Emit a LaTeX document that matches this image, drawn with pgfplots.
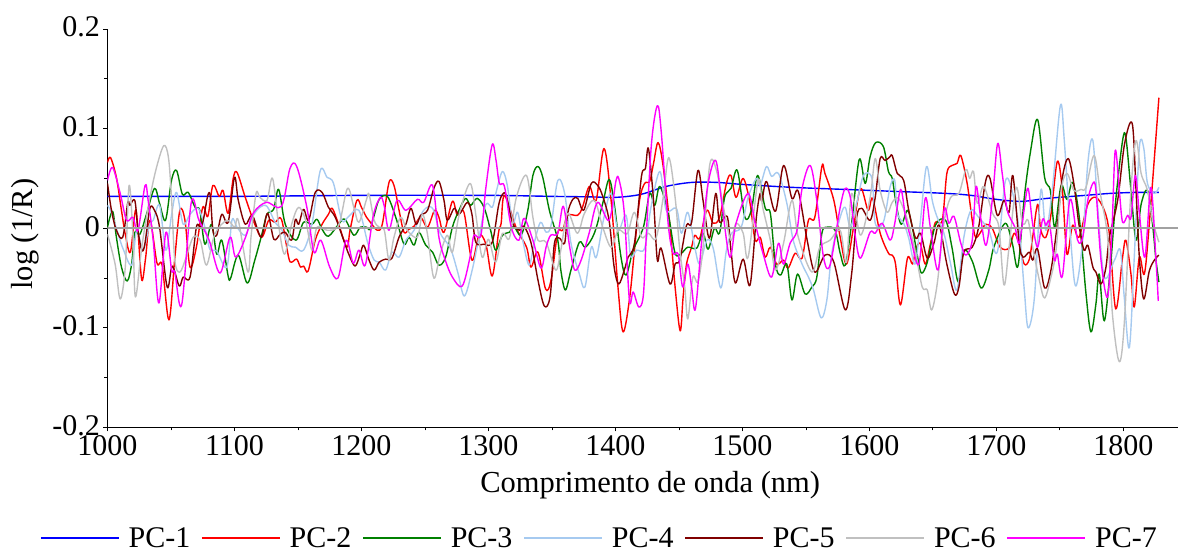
\documentclass[border=0pt]{standalone}
\usepackage{fontspec}
\setmainfont{Liberation Serif}
\usepackage{pgfplots}
\pgfplotsset{compat=1.18}
\definecolor{pcblue}{HTML}{0000FF}
\definecolor{pcred}{HTML}{FF0000}
\definecolor{pcgreen}{HTML}{008000}
\definecolor{pclight}{HTML}{A6CAF0}
\definecolor{pcdark}{HTML}{800000}
\definecolor{pcgray}{HTML}{C0C0C0}
\definecolor{pcmag}{HTML}{FF00FF}
\begin{document}
\begin{tikzpicture}[x=1pt,y=1pt]
\useasboundingbox (-107.5pt,-123.5pt) rectangle (1070.5pt,427.5pt);
\begin{axis}[
  at={(0pt,0pt)},anchor=south west,
  scale only axis,width=1070.5pt,height=398.5pt,
  xmin=1000,xmax=1843,ymin=-0.2,ymax=0.2,
  axis x line*=bottom,axis y line*=left,
  axis line style={black,line width=1pt,-},
  xtick={1000,1100,1200,1300,1400,1500,1600,1700,1800},
  xticklabels={1000,1100,1200,1300,1400,1500,1600,1700,1800},
  minor xtick={1050,1150,1250,1350,1450,1550,1650,1750},
  ytick={-0.2,-0.1,0,0.1,0.2},
  yticklabels={-0.2,-0.1,0,0.1,0.2},
  minor ytick={-0.15,-0.05,0.05,0.15},
  tick align=outside,
  major tick length=4pt,minor tick length=3pt,
  tick style={black,line width=0.8pt},
  tick label style={font=\fontsize{30}{30}\selectfont},
  xticklabel style={yshift=-1pt},
  yticklabel style={yshift=2pt},
  xlabel={Comprimento de onda (nm)},
  ylabel={log (1/R)},
  every axis x label/.style={at={(axis description cs:0.507,0)},anchor=center,yshift=-58pt,font=\fontsize{30.5}{30.5}\selectfont},
  every axis y label/.style={at={(axis description cs:-0.0765,0.485)},rotate=90,anchor=center,font=\fontsize{30.5}{30.5}\selectfont},
  legend columns=7,
  legend style={draw=none,fill=none,at={(-67.5pt,-110.5pt)},anchor=west,
    font=\fontsize{30}{30}\selectfont,inner xsep=0pt,inner ysep=0pt,
    /tikz/every odd column/.append style={column sep=7pt},
    /tikz/every even column/.append style={column sep=9pt}},
  legend image code/.code={\draw[#1] (0pt,0pt) -- (78pt,0pt);},
  every axis plot/.append style={line width=1.4pt,line join=round,smooth,tension=0.55,no marks},
]
\addplot[pcblue] coordinates {(1000,.032)(1100,.032)(1200,.033)(1300,.033)(1350,.032)(1380,.0315)(1400,.031)(1420,.034)(1440,.042)(1460,.046)(1480,.046)(1500,.044)(1540,.041)(1580,.039)(1620,.037)(1660,.035)(1680,.033)(1700,.029)(1720,.027)(1740,.030)(1770,.033)(1790,.035)(1810,.036)(1828,.036)};
\addlegendentry{PC-1}
\addplot[pcred] coordinates {(1000,.066)(1002.4,.071)(1007,.051)(1011,.018)(1014,-.006)(1018,-.024)(1022,.018)(1024,-.003)(1027,-.052)(1030,-.03)(1033.5,.008)(1039,-.035)(1043,-.037)(1048.4,-.092)(1053,-.03)(1057,.018)(1061,.008)(1065,-.039)(1070,-.019)(1075,.021)(1079,.012)(1083,.043)(1088,.032)(1091,.038)(1095,.015)(1099,.05)(1102,.056)(1108.5,.031)(1116,.004)(1121.6,-.009)(1127,.008)(1132,.006)(1137,.009)(1142.6,-.029)(1145,-.034)(1149,-.031)(1152,-.039)(1154.5,-.038)(1158,-.043)(1163.6,-.012)(1169,.004)(1174,.014)(1177,.02)(1182,.004)(1188.6,-.019)(1191,-.002)(1196.4,.028)(1200,.021)(1204,.011)(1207,.006)(1212.5,-.002)(1216.4,.004)(1221.7,.046)(1225.6,.043)(1229.6,.018)(1233.5,-.004)(1237.4,-.001)(1241.4,.002)(1246.6,.011)(1252,.001)(1257.6,.018)(1261,.011)(1265,-.004)(1271.6,.027)(1275.5,.013)(1280.7,.016)(1287,-.032)(1292.6,-.007)(1298,-.016)(1303,-.048)(1308,-.004)(1310,.005)(1312.6,.033)(1322,.0)(1330,-.019)(1333.5,-.039)(1339,-.024)(1345,-.061)(1349.3,-.052)(1354.5,-.005)(1358.5,-.002)(1362.4,.013)(1370.3,.013)(1374,.021)(1379.5,.042)(1384.8,.028)(1391,.08)(1396.6,.028)(1402,-.059)(1406,-.104)(1411,-.072)(1415,-.022)(1419,.028)(1423,.045)(1427,.047)(1430,.065)(1433.6,.086)(1437.6,.062)(1443,.001)(1447,-.059)(1451,-.103)(1453.3,-.069)(1456,-.036)(1460,-.019)(1462.5,-.007)(1466.4,-.01)(1472,.018)(1477,.005)(1482,.011)(1487.4,.045)(1491,.053)(1495,.031)(1500.6,.05)(1506,.025)(1510,-.012)(1514,-.009)(1518,-.029)(1522,-.019)(1527,-.036)(1532.4,-.032)(1536,-.04)(1541.6,-.025)(1547,-.03)(1552,.008)(1557,.011)(1562.6,.062)(1565,.055)(1572,.028)(1577,-.009)(1582,-.036)(1587.5,.001)(1593,.04)(1599,.018)(1602.5,.03)(1608.5,-.005)(1615,-.025)(1618,-.027)(1620.6,-.036)(1624.5,-.077)(1630,-.03)(1634,-.036)(1636.4,-.022)(1640,-.015)(1644,-.036)(1648,-.016)(1652,.006)(1657.4,.008)(1661,.055)(1665,.063)(1669,.065)(1672,.073)(1677,.045)(1681,.008)(1683.6,-.009)(1687.6,-.004)(1691.5,.004)(1696.7,.0)(1703,-.019)(1710,-.02)(1714,-.005)(1717.7,-.015)(1722,-.036)(1726,-.031)(1728.6,-.009)(1732.5,.024)(1735,-.002)(1739,-.009)(1743,.014)(1748,.067)(1752,.038)(1755.6,-.026)(1760,.003)(1765,-.009)(1772,.024)(1778.4,.031)(1785,.018)(1789,-.006)(1794,-.081)(1799.4,-.029)(1802,-.012)(1806,-.046)(1808.6,-.079)(1812.6,-.029)(1816.5,-.046)(1820.4,.004)(1828,.131)};
\addlegendentry{PC-2}
\addplot[pcgreen] coordinates {(1000,.001)(1004,.017)(1007,-.009)(1011,-.039)(1015.5,-.053)(1019,-.036)(1021.6,-.004)(1025.5,-.006)(1030.7,.014)(1037,.04)(1041,.025)(1045.7,.008)(1050.4,.048)(1054.4,.058)(1059,.034)(1063.6,.036)(1069,.021)(1072.7,.018)(1076.7,-.016)(1082,.004)(1086,-.026)(1090,-.012)(1095,-.048)(1097,-.05)(1103,-.027)(1110,-.055)(1116,-.032)(1121.6,-.006)(1125.6,.014)(1130.8,.019)(1134.8,.039)(1140,.004)(1148.4,-.012)(1154.4,.006)(1161,.004)(1165,.009)(1169,-.001)(1174,-.008)(1182,.004)(1187,.009)(1194,-.007)(1199,.001)(1204,.001)(1206.7,-.001)(1210,.013)(1214,.029)(1220.4,.032)(1227,.011)(1233.5,-.016)(1237.4,-.009)(1241.4,-.017)(1245.3,-.004)(1250.6,-.017)(1256,-.024)(1261,-.037)(1266.3,-.029)(1271.6,.001)(1276.8,.018)(1282,.03)(1286,.023)(1291,.03)(1296.5,.021)(1301.7,-.002)(1305.7,-.022)(1311,-.007)(1316.5,-.004)(1320,.002)(1325.7,-.007)(1331,.018)(1335,.053)(1339,.062)(1342.8,.051)(1348,.018)(1354.6,-.012)(1357,-.042)(1360.6,-.062)(1365,-.042)(1371.6,-.014)(1376.4,-.019)(1383.4,-.005)(1390,.025)(1395,.049)(1399,.025)(1404.4,-.029)(1408.4,-.047)(1414,-.022)(1422,.001)(1427,.035)(1431,.023)(1435,.042)(1441.5,.015)(1447,-.025)(1452,-.025)(1457,-.019)(1464,-.02)(1469,-.005)(1473,-.021)(1478,0)(1482,-.005)(1486,.031)(1491,.04)(1496,.058)(1502,.011)(1507,.018)(1512,.053)(1518,.02)(1522,.015)(1526,-.036)(1530,-.047)(1535,-.036)(1539,-.072)(1543.4,-.046)(1549.4,-.066)(1554.7,-.059)(1558.6,-.049)(1562.6,-.005)(1566.5,.001)(1573,-.002)(1577,-.025)(1581,-.037)(1586,.005)(1592,.069)(1596.7,.045)(1600.6,.072)(1605,.086)(1611,.082)(1615,.057)(1618,.05)(1621,.025)(1625,.004)(1630,.018)(1633.8,.001)(1638,-.029)(1641,-.045)(1645.6,-.034)(1652,.003)(1660,.008)(1665,-.019)(1670,-.054)(1674.4,-.022)(1681,-.033)(1688,-.06)(1694,-.042)(1698,-.019)(1707,.005)(1712.5,-.015)(1717,-.038)(1722,.031)(1727,.078)(1732.5,.109)(1738,.051)(1742.5,.038)(1746,.001)(1751,.043)(1755.6,.029)(1760,.046)(1765,.014)(1770.6,-.066)(1774.5,-.104)(1778.4,-.076)(1781,-.046)(1785,-.093)(1790,-.036)(1794,.028)(1799.4,.088)(1802,.091)(1806,.038)(1810,-.012)(1814,.024)(1819,.038)(1823,.004)(1825.7,-.032)(1828,-.054)};
\addlegendentry{PC-3}
\addplot[pclight] coordinates {(1000,.023)(1003,.016)(1008.4,-.006)(1012.4,-.021)(1019,-.037)(1023,-.002)(1028,-.022)(1033,.003)(1036,.008)(1041,.023)(1046,-.022)(1050.4,.013)(1054.4,.036)(1059.6,.004)(1065,.014)(1071.4,.02)(1076.7,.001)(1080.6,-.021)(1086,-.023)(1094,-.039)(1098,.008)(1102,.001)(1108.5,-.007)(1114,.011)(1120,.021)(1125.6,.022)(1132,.006)(1137.4,-.002)(1142.6,-.017)(1148,-.019)(1154.4,-.022)(1161,.004)(1167.6,.058)(1173,.051)(1178,.045)(1184.6,.008)(1190,.012)(1198,.018)(1205,-.015)(1210,-.032)(1214,-.034)(1219,-.042)(1224,-.024)(1229.6,-.029)(1235,-.012)(1241.4,-.002)(1249,.018)(1256,.02)(1262,-.005)(1270,-.02)(1276,-.045)(1281,-.068)(1287,-.043)(1292.6,-.009)(1298,.024)(1303,.021)(1306,.036)(1311,.057)(1315,.042)(1319,.005)(1323,.016)(1327,-.012)(1332,-.037)(1336,-.015)(1341,.006)(1345.4,-.004)(1349.3,.003)(1354.6,.048)(1360,.035)(1365,-.015)(1371.6,-.046)(1376,-.059)(1381,-.019)(1385,-.029)(1391,.011)(1396.6,.035)(1402,-.002)(1408.4,.013)(1412,-.028)(1416.6,-.022)(1423,-.02)(1428,.021)(1435,.057)(1440,.018)(1448,.02)(1452,-.005)(1457,.016)(1462.5,-.019)(1466.4,-.036)(1472,-.012)(1477,-.02)(1483,-.06)(1487.4,-.022)(1491.4,-.005)(1499,.001)(1504.5,.031)(1511,.05)(1514,.043)(1519,.062)(1523,.052)(1528.4,.055)(1535,.025)(1540,-.012)(1547,-.036)(1552,-.049)(1556,-.062)(1562,-.09)(1566.5,-.072)(1570.4,-.025)(1577,.011)(1581,.021)(1585,.001)(1590,.025)(1595.4,.053)(1602,.05)(1604.6,.005)(1611,.006)(1616.4,.042)(1620,.048)(1622,.015)(1627,.005)(1631,-.01)(1636,-.036)(1640,.005)(1645,.062)(1649.5,.028)(1653.4,.011)(1658.7,-.005)(1664,-.036)(1669,-.062)(1674.4,-.009)(1680,.018)(1686,.011)(1694,-.002)(1700.7,-.024)(1707,.047)(1712.5,.037)(1718,-.002)(1722,-.062)(1725,-.1)(1730,-.069)(1735,.038)(1739,-.002)(1744,.038)(1750.4,.123)(1753.5,.088)(1759,-.019)(1762.7,-.058)(1768,-.012)(1772,.065)(1776,.088)(1780,.018)(1785,-.049)(1793,-.032)(1797.6,-.022)(1800.7,-.069)(1804.7,-.12)(1808.6,-.029)(1812.6,.081)(1816,.081)(1819,.045)(1824.4,.035)(1828,.041)};
\addlegendentry{PC-4}
\addplot[pcdark] coordinates {(1000,.045)(1003,.019)(1007,-.002)(1012,-.009)(1016,.026)(1017.6,.023)(1021.5,.028)(1024,-.002)(1027,-.022)(1029.4,-.016)(1033.4,.02)(1037,.018)(1041,.001)(1047,-.059)(1051,-.038)(1056.5,-.058)(1059.6,-.049)(1065,-.049)(1070,.001)(1073,.001)(1075.4,.008)(1079,.033)(1081,.032)(1083,-.002)(1086,-.007)(1090,.014)(1095,.006)(1100,.051)(1103,.028)(1108.5,.004)(1114,.013)(1121,-.009)(1126,.015)(1131,-.011)(1136,-.006)(1140,-.004)(1145,-.012)(1148,.009)(1150.5,.004)(1154.4,.019)(1158.4,.008)(1163.6,.036)(1169,.036)(1174,.021)(1179.4,.011)(1186,-.012)(1190,-.026)(1195,-.038)(1199,-.026)(1201.7,-.017)(1206,-.032)(1210,-.042)(1214,-.034)(1219,-.031)(1224,-.03)(1229.6,-.009)(1235,.004)(1239,.02)(1243,.004)(1246.6,.013)(1252,.018)(1257,.04)(1261,.047)(1265,.028)(1267.6,.008)(1273,.02)(1277,.014)(1283.4,.026)(1287,.014)(1290,-.014)(1296.5,-.016)(1303,-.014)(1308,.023)(1311,.034)(1314,.033)(1319,.005)(1324.4,-.002)(1328,.002)(1333.6,-.015)(1339,-.052)(1344,-.078)(1348.5,-.069)(1352,-.015)(1356,-.01)(1360,-.015)(1362.4,.015)(1366.4,.029)(1370.3,.03)(1375,.018)(1381,.045)(1386,.043)(1390,.032)(1395,.008)(1399,-.039)(1402.6,-.056)(1407,-.042)(1410,-.029)(1415,-.015)(1420.5,.052)(1423.6,.06)(1426,.08)(1430,.028)(1433,-.032)(1436,-.02)(1443,-.056)(1447,-.036)(1450.7,-.032)(1456,.003)(1460,.006)(1465,.058)(1469,.028)(1474,-.01)(1479,.035)(1482,.006)(1488,.012)(1491,-.022)(1494.5,-.055)(1500.6,-.031)(1506,-.057)(1511,.011)(1514,.035)(1515.3,.027)(1519,.047)(1526,.017)(1532.4,.063)(1539,.03)(1544,.037)(1551,-.012)(1557,-.044)(1565,-.027)(1572,-.034)(1581,-.082)(1586,-.046)(1590,.011)(1594,.02)(1600.6,.008)(1604.6,.031)(1608.5,.07)(1612.4,.068)(1616.4,.072)(1618,.073)(1622,.055)(1627,.048)(1631,.018)(1636.4,-.01)(1640.3,-.005)(1645.6,-.03)(1650.8,-.015)(1655,.003)(1661,-.036)(1667,-.066)(1670.5,-.059)(1674.4,-.024)(1681,-.019)(1686,.001)(1691.5,.047)(1695,.05)(1700.7,.013)(1706,.028)(1710,.016)(1713,.053)(1718,-.015)(1721,-.029)(1726,-.024)(1728.6,-.032)(1732.5,-.021)(1738,-.06)(1743,-.042)(1748,.004)(1752,.051)(1756.6,.07)(1761,.045)(1765,.004)(1769,-.022)(1772,-.017)(1776,-.039)(1778.4,-.044)(1782.4,-.056)(1786.3,-.039)(1789,-.009)(1795.5,.028)(1801,.085)(1807,.105)(1810,.038)(1812.6,-.029)(1816,-.071)(1820.4,-.043)(1824.4,-.032)(1828,-.027)};
\addlegendentry{PC-5}
\addplot[pcgray] coordinates {(1000,-.006)(1006,-.036)(1010,-.071)(1014,-.039)(1017,.043)(1020,-.006)(1022,-.069)(1027,-.019)(1033,.028)(1038.6,.061)(1044.4,.083)(1048,.071)(1050.4,.031)(1053,-.032)(1057,-.044)(1062,-.029)(1067.5,-.009)(1073,-.012)(1078,-.037)(1084.5,-.006)(1094,.008)(1100,.001)(1103,.008)(1110.6,-.044)(1113,-.009)(1117,.035)(1120,.031)(1125.6,.028)(1130,.05)(1135,.001)(1139.5,-.026)(1145,.004)(1150.5,.021)(1156,.008)(1161,-.022)(1165,.001)(1173,-.002)(1182,.003)(1189,.04)(1194,.021)(1198,.006)(1204,.029)(1206,.034)(1210,.008)(1214,.001)(1218,-.002)(1221.7,-.032)(1225.6,-.009)(1231,.011)(1236,-.002)(1244,-.009)(1248,.014)(1252,-.006)(1257,-.05)(1262,-.026)(1267.6,-.007)(1271.6,-.024)(1277,.014)(1285.5,.045)(1290,.014)(1295,-.029)(1300,-.011)(1305.7,-.034)(1311,-.005)(1316.5,-.01)(1322,.031)(1330,.053)(1335,.011)(1339,-.012)(1345.4,-.014)(1353,-.042)(1357,-.022)(1362.4,.015)(1370,-.005)(1375.6,.015)(1383.4,.028)(1390,.001)(1396.6,-.019)(1402,-.002)(1407,-.005)(1410,-.004)(1415,.016)(1420.5,-.009)(1426,-.005)(1432,-.01)(1437.6,.031)(1442,.071)(1447,.031)(1450.7,-.022)(1454.6,-.059)(1457,-.091)(1461,-.049)(1465,-.054)(1469,-.019)(1474.3,.064)(1479.6,.058)(1486,.015)(1491,-.012)(1495,.005)(1500.6,-.005)(1504.5,-.029)(1512.4,.048)(1516,.021)(1522,-.012)(1526,-.042)(1532.4,-.015)(1539,.028)(1544,-.009)(1554.7,-.044)(1561,-.019)(1569,-.012)(1577,-.002)(1582,-.034)(1586,.035)(1593,-.007)(1600.6,.031)(1604.6,.07)(1608.5,.038)(1614,.016)(1618,.026)(1623,.03)(1630,.008)(1636.4,-.025)(1641.6,-.059)(1645.6,-.062)(1649,-.082)(1653.4,-.056)(1658.7,.005)(1664,.031)(1670.5,.035)(1676,.059)(1679,.05)(1682,.057)(1685,.025)(1690,.042)(1697,.015)(1702,.001)(1706,-.057)(1710,-.019)(1715.6,.041)(1720,.008)(1722,.004)(1725,.008)(1728.6,-.019)(1734,-.053)(1738,-.07)(1743,-.049)(1747,-.022)(1751,.038)(1755.6,.055)(1761,.038)(1766.6,.039)(1770.6,.041)(1777,.073)(1782,.034)(1787.6,-.009)(1791.6,-.089)(1796.8,-.134)(1800.7,-.096)(1806,.038)(1810,.088)(1814,.055)(1819,.038)(1823,.008)(1828,-.014)};
\addlegendentry{PC-6}
\addplot[pcmag] coordinates {(1000,.048)(1004,.061)(1010,.035)(1015,.008)(1020,.011)(1024,-.002)(1029.6,.043)(1032,.028)(1036,-.012)(1040.5,-.075)(1046,-.004)(1050.5,-.042)(1053,-.044)(1058.4,-.077)(1066,.026)(1072,.008)(1080,-.012)(1088.6,-.045)(1096.5,-.009)(1101,-.029)(1109,-.008)(1114.7,.015)(1125,.026)(1137,.022)(1143.7,.06)(1149,.062)(1157,.021)(1162.6,-.024)(1168,-.012)(1175,-.039)(1181.5,-.05)(1188,-.012)(1193.5,-.035)(1198,-.022)(1203,-.037)(1209.4,.013)(1215,.031)(1218,.022)(1221.7,-.002)(1228,.028)(1235,.018)(1244,.029)(1249,.026)(1256,.043)(1261,-.009)(1266,-.032)(1271.6,-.049)(1279.4,-.058)(1286,-.026)(1288.6,-.007)(1294,-.007)(1298,.041)(1303,.084)(1306,.068)(1308.6,.045)(1312.6,.042)(1318,.001)(1324,-.012)(1328,.01)(1335,-.012)(1341.4,-.04)(1345.4,-.019)(1349,-.007)(1354.6,-.005)(1359,.022)(1364,-.019)(1368,-.042)(1373,-.032)(1379.5,-.004)(1386,.026)(1395,.008)(1400.5,.048)(1403,.048)(1407,.015)(1411,-.072)(1414,-.064)(1418.4,-.079)(1422,-.067)(1424.4,-.005)(1428.4,.085)(1433,.123)(1436,.098)(1441.5,.005)(1445.4,-.025)(1449.4,-.026)(1453,-.059)(1457,-.036)(1460,-.059)(1463,-.081)(1468,-.012)(1473,.045)(1479,.068)(1483.5,.028)(1490,-.029)(1495,.005)(1504.5,.035)(1510,.005)(1516.6,-.027)(1523,-.049)(1528.4,-.015)(1532.4,-.036)(1537.6,-.015)(1543,-.002)(1547,.04)(1553.4,.063)(1558.6,.028)(1564,-.03)(1569,-.037)(1577,.021)(1581,.04)(1585,.031)(1589,-.009)(1593,-.03)(1600.6,-.004)(1604.6,-.005)(1610,.005)(1616.4,-.012)(1620,.005)(1624.6,.039)(1628.5,.011)(1632.4,-.009)(1639,-.036)(1644,.03)(1648,.001)(1654,-.042)(1659,.019)(1662.6,.005)(1666.6,.012)(1672,-.015)(1676,-.027)(1681,-.012)(1684,.042)(1687.6,.011)(1692,-.017)(1697,.031)(1701,.085)(1704.6,.055)(1708.6,.018)(1714.6,.001)(1718,-.015)(1722,.02)(1725,.04)(1728.6,.004)(1732.5,-.019)(1736.4,.009)(1739,.003)(1741.7,.006)(1745.6,-.032)(1748,-.026)(1752,-.048)(1758,.029)(1764,-.012)(1768,-.009)(1772,.028)(1776,.045)(1778.4,.038)(1782.4,-.032)(1787.6,-.069)(1791,-.002)(1793.6,.078)(1796.8,.038)(1799.4,.006)(1803.4,.013)(1806,.011)(1809.4,.053)(1812.6,.015)(1817,-.029)(1821.7,.041)(1825.7,-.032)(1827.5,-.073)};
\addlegendentry{PC-7}
\addplot[color=black!37,line width=2pt,forget plot,sharp plot] coordinates {(1000,0)(1843,0)};
\end{axis}
\end{tikzpicture}
\end{document}
